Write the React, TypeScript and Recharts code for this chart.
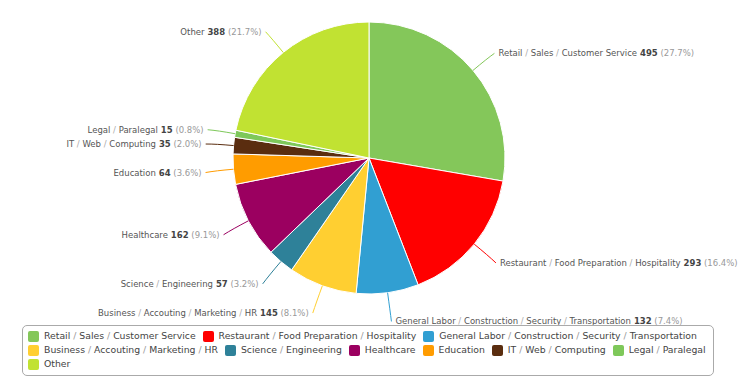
import { PieChart, Pie, Cell, Legend } from 'recharts';

const categories = [
  'Retail / Sales / Customer Service',
  'Restaurant / Food Preparation / Hospitality',
  'General Labor / Construction / Security / Transportation',
  'Business / Accouting / Marketing / HR',
  'Science / Engineering',
  'Healthcare',
  'Education',
  'IT / Web / Computing',
  'Legal / Paralegal',
  'Other',
];
const counts = [495, 293, 132, 145, 57, 162, 64, 35, 15, 388];
const colors = ['#84c75a', '#ff0000', '#319fd2', '#ffcf31', '#2e8199', '#9b0060', '#ff9c00', '#5a2d0f', '#7ec85a', '#c1e232'];

const data = categories.map((name, i) => ({ name, value: counts[i] }));
const total = counts.reduce((a, b) => a + b, 0);

const FONT = '"DejaVu Sans", Verdana, sans-serif';
const RAD = Math.PI / 180;

// splits "A / B" so the slashes can be drawn lighter
function nameParts(name: string) {
  return name.split(' / ');
}

function renderLabel(props: any) {
  const { cx, cy, midAngle, outerRadius, index } = props;
  const d = data[index];
  const cos = Math.cos(-midAngle * RAD);
  const sin = Math.sin(-midAngle * RAD);
  const sx = cx + outerRadius * cos;
  const sy = cy + outerRadius * sin;
  const mx = cx + (outerRadius + 18) * cos;
  const my = cy + (outerRadius + 18) * sin;
  const ex = cx + (outerRadius + 28) * cos;
  const ey = cy + (outerRadius + 28) * sin + 1;
  const right = cos >= 0;
  const tx = ex + (right ? 4 : -4);
  const parts = nameParts(d.name);
  const pct = ((d.value / total) * 100).toFixed(1);
  return (
    <g>
      <path d={`M${sx},${sy} Q${mx},${my} ${ex},${ey}`} stroke={colors[index]} fill="none" strokeWidth={1} />
      <text
        x={tx}
        y={ey}
        dy={3}
        textAnchor={right ? 'start' : 'end'}
        fontFamily={FONT}
        fontSize={8.5}
        fill="#555"
      >
        {parts.map((p, i) => (
          <tspan key={i}>
            {i > 0 && <tspan fill="#aaa">{' / '}</tspan>}
            {p}
          </tspan>
        ))}
        <tspan fontWeight="bold" fill="#444">{' ' + d.value}</tspan>
        <tspan fill="#999">{' (' + pct + '%)'}</tspan>
      </text>
    </g>
  );
}

function LegendBox() {
  return (
    <div
      style={{
        width: 692,
        height: 51,
        border: '1px solid #aaa',
        borderRadius: 5,
        padding: '4px 5px',
        boxSizing: 'border-box',
        display: 'flex',
        flexWrap: 'wrap',
        alignContent: 'flex-start',
        columnGap: 7,
        rowGap: 2,
        fontFamily: FONT,
        fontSize: 9.3,
        color: '#444',
        lineHeight: '12px',
      }}
    >
      {data.map((d, i) => (
        <span key={d.name} style={{ display: 'inline-flex', alignItems: 'center' }}>
          <span
            style={{
              width: 11,
              height: 11,
              borderRadius: 2,
              background: colors[i],
              display: 'inline-block',
              marginRight: 5,
            }}
          />
          {nameParts(d.name).map((p, j) => (
            <span key={j}>
              {j > 0 && <span style={{ color: '#999', whiteSpace: 'pre' }}>{' / '}</span>}
              {p}
            </span>
          ))}
        </span>
      ))}
    </div>
  );
}

export default function App() {
  return (
    <div style={{ margin: -8, width: 750, height: 386, background: '#fff' }}>
      <PieChart width={750} height={386} margin={{ top: 0, right: 0, bottom: 0, left: 0 }}>
        <Pie
          data={data}
          dataKey="value"
          nameKey="name"
          cx={369}
          cy={158}
          outerRadius={136}
          startAngle={90}
          endAngle={-270}
          stroke="#fff"
          strokeWidth={1}
          label={renderLabel}
          labelLine={false}
          isAnimationActive={false}
        >
          {data.map((d, i) => (
            <Cell key={d.name} fill={colors[i]} />
          ))}
        </Pie>
        <Legend
          layout="horizontal"
          verticalAlign="bottom"
          wrapperStyle={{ position: 'absolute', left: 22, top: 325, width: 692 }}
          content={() => <LegendBox />}
        />
      </PieChart>
    </div>
  );
}
